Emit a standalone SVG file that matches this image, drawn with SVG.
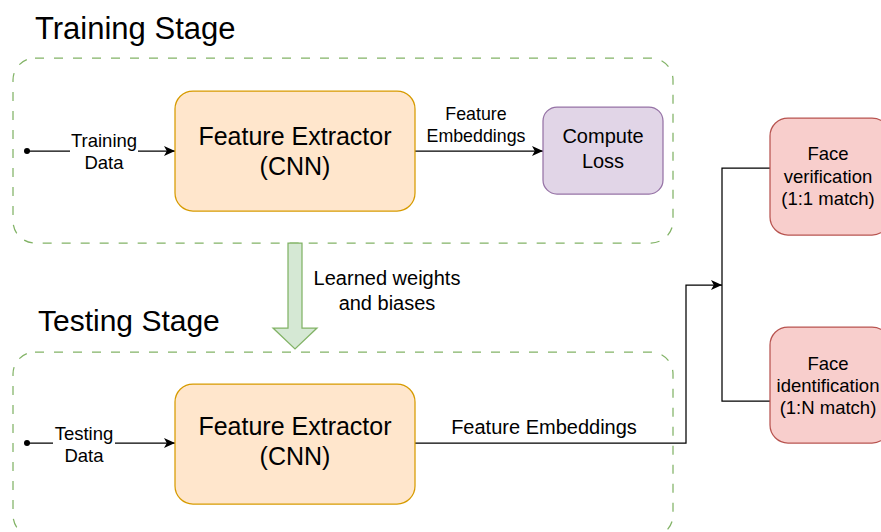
<svg xmlns="http://www.w3.org/2000/svg" width="881" height="532" viewBox="0 0 881 532">
  <style>
    text { font-family: "Liberation Sans", Arial, sans-serif; fill: #000; text-anchor: middle; }
    .stage { fill: none; stroke: #82b366; stroke-width: 1.25; stroke-dasharray: 9 10; }
    .fe { fill: #ffe6cc; stroke: #d79b00; stroke-width: 1.25; }
    .loss { fill: #e1d5e7; stroke: #9673a6; stroke-width: 1.25; }
    .face { fill: #f8cecc; stroke: #b85450; stroke-width: 1.25; }
    .wire { fill: none; stroke: #000; stroke-width: 1.25; }
    .title { font-size: 30px; text-anchor: start; }
    .title.wide { font-size: 31px; }
    .big { font-size: 25px; }
    .mid { font-size: 20px; }
    .small { font-size: 18.5px; }
    .edge { font-size: 17.8px; }
  </style>
  <defs>
    <marker id="arrow" markerUnits="userSpaceOnUse" markerWidth="13" markerHeight="11" refX="11" refY="5" orient="auto">
      <path d="M0,0 L11,5 L0,10 L2.8,5 Z" fill="#000"/>
    </marker>
  </defs>

  <!-- stage titles -->
  <text class="title wide" x="35" y="39">Training Stage</text>
  <text class="title" x="38" y="331">Testing Stage</text>

  <!-- stage containers -->
  <g id="training-stage">
    <rect class="stage" x="13" y="58" width="660" height="185" rx="22"/>
  </g>
  <g id="testing-stage">
    <rect class="stage" x="13" y="352" width="660" height="185" rx="22"/>
  </g>

  <!-- weight transfer arrow -->
  <g id="weight-transfer">
    <path d="M288,243 L302,243 L302,328 L317,328 L295,349 L273,328 L288,328 Z" fill="#d5e8d4" stroke="#82b366" stroke-width="1.25"/>
    <text class="mid" x="387" y="285">Learned weights</text>
    <text class="mid" x="387" y="310">and biases</text>
  </g>

  <!-- connectors -->
  <g id="connectors">
    <circle cx="27" cy="151" r="3" fill="#000"/>
    <path class="wire" d="M27,151 L175,151" marker-end="url(#arrow)"/>
    <rect x="70" y="131" width="68" height="42" fill="#fff"/>
    <text class="small" x="104" y="147">Training</text>
    <text class="small" x="104" y="169">Data</text>

    <path class="wire" d="M415,151 L543,151" marker-end="url(#arrow)"/>
    <text class="edge" x="476" y="120">Feature</text>
    <text class="edge" x="476" y="142">Embeddings</text>

    <circle cx="27" cy="443" r="3" fill="#000"/>
    <path class="wire" d="M27,443 L175,443" marker-end="url(#arrow)"/>
    <rect x="53" y="423" width="62" height="42" fill="#fff"/>
    <text class="small" x="84" y="440">Testing</text>
    <text class="small" x="84" y="462">Data</text>

    <path class="wire" d="M415,443 L686,443 L686,285 L722,285" marker-end="url(#arrow)"/>
    <text class="mid" x="544" y="434">Feature Embeddings</text>

    <path class="wire" d="M770,168 L722,168 L722,401 L770,401"/>
  </g>

  <!-- nodes -->
  <g id="train-extractor">
    <rect class="fe" x="175" y="91" width="240" height="120" rx="18"/>
    <text class="big" x="295" y="145">Feature Extractor</text>
    <text class="big" x="295" y="175">(CNN)</text>
  </g>
  <g id="compute-loss">
    <rect class="loss" x="543" y="107" width="120" height="87" rx="14"/>
    <text class="mid" x="603" y="143">Compute</text>
    <text class="mid" x="603" y="168">Loss</text>
  </g>
  <g id="test-extractor">
    <rect class="fe" x="175" y="384" width="240" height="120" rx="18"/>
    <text class="big" x="295" y="435">Feature Extractor</text>
    <text class="big" x="295" y="465">(CNN)</text>
  </g>
  <g id="face-verification">
    <rect class="face" x="770" y="118" width="120" height="117" rx="18"/>
    <text class="small" x="828" y="160">Face</text>
    <text class="small" x="828" y="183">verification</text>
    <text class="small" x="828" y="205">(1:1 match)</text>
  </g>
  <g id="face-identification">
    <rect class="face" x="770" y="327" width="120" height="116" rx="18"/>
    <text class="small" x="828" y="370">Face</text>
    <text class="small" x="828" y="392">identification</text>
    <text class="small" x="828" y="414">(1:N match)</text>
  </g>
</svg>
